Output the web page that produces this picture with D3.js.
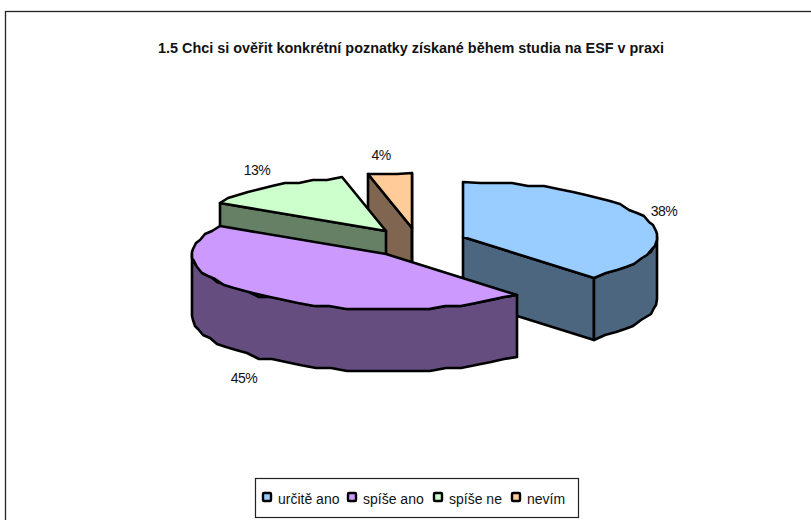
<!DOCTYPE html>
<html><head><meta charset="utf-8">
<script src="https://cdnjs.cloudflare.com/ajax/libs/d3/7.8.5/d3.min.js"></script>
<style>html,body{margin:0;padding:0;background:#fff}svg{display:block}text{font-family:"Liberation Sans",Arial,sans-serif;fill:#111}</style>
</head><body><svg id="c" width="811" height="520"></svg>
<script>
const titleText = "1.5 Chci si ověřit konkrétní poznatky získané během studia na ESF v praxi";
const categories = ["určitě ano","spíše ano","spíše ne","nevím"];
const values = [38.2,45.4,12.8,3.6];
const topColors = ["#99CCFF","#CC99FF","#CCFFCC","#FFCC99"];
const sideColors = ["#4D6680","#664D80","#668066","#806650"];

const RX=194, RY=55, DEPTH=62, STEP=Math.PI/36, GRID=3;
const centers=[[463,237],[386,254],[386,231],[412,228]];
const labelPos=[[664,216],[244,383],[257,175],[381,160]];
const legendMark=[262,347,433,511], legendText=[278,363,449,527];
const drawOrder=[0,3,2,1];

const svg=d3.select("#c");
svg.append("rect").attr("x",5.5).attr("y",11.5).attr("width",830).attr("height",540)
  .attr("fill","#fff").attr("stroke","#222").attr("stroke-width",1.3);
svg.append("text").attr("x",158).attr("y",53)
  .attr("font-size",14).attr("font-weight","bold")
  .attr("textLength",506).attr("lengthAdjust","spacingAndGlyphs").text(titleText);

const pie=d3.pie().sort(null)(values);
const sx=d3.scaleLinear().domain([-1,1]).range([-RX,RX]);
const sy=d3.scaleLinear().domain([-1,1]).range([RY,-RY]);
const pt=(c,a,d=0)=>[Math.round(c[0]+sx(Math.sin(a))),Math.round(c[1]+sy(Math.cos(a))+d)];
const gridPt=(c,a,d=0)=>[Math.round(c[0]+sx(Math.sin(a))),Math.round((c[1]+sy(Math.cos(a)))/GRID)*GRID+d];
function arcPts(c,a0,a1,d=0){
  const n=Math.max(1,Math.ceil((a1-a0)/STEP)),out=[];
  for(let i=0;i<=n;i++) out.push(i===0||i===n?pt(c,a0+(a1-a0)*i/n,d):gridPt(c,a0+(a1-a0)*i/n,d));
  return out;
}
const line=d3.line();
const poly=(p,fill)=>svg.append("path").attr("d",line(p)+"Z").attr("fill",fill)
  .attr("stroke","#000").attr("stroke-width",2.6).attr("stroke-linejoin","round");

drawOrder.forEach(i=>{
  const s=pie[i],c=centers[i],a0=s.startAngle,a1=s.endAngle,side=sideColors[i];
  const cut=a=>{const t=pt(c,a);return [c,t,[t[0],t[1]+DEPTH],[c[0],c[1]+DEPTH]];};
  if(Math.sin(a0)<-1e-6) poly(cut(a0),side);
  if(Math.sin(a1)>-1e-6 && a1>a0) poly(cut(a1),side);
  const w0=Math.max(a0,Math.PI/2),w1=Math.min(a1,3*Math.PI/2);
  if(w1>w0) poly(arcPts(c,w0,w1).concat(arcPts(c,w0,w1,DEPTH).reverse()),side);
  poly([c].concat(arcPts(c,a0,a1)),topColors[i]);
});

values.forEach((v,i)=>svg.append("text").attr("x",labelPos[i][0]).attr("y",labelPos[i][1])
  .attr("text-anchor","middle").attr("font-size",14).attr("letter-spacing",-0.5).text(Math.round(v)+"%"));

svg.append("rect").attr("x",255.5).attr("y",478.5).attr("width",323).attr("height",39)
  .attr("fill","#fff").attr("stroke","#222").attr("stroke-width",1.2);
categories.forEach((t,i)=>{
  svg.append("rect").attr("x",legendMark[i]+1).attr("y",493).attr("width",8).attr("height",8).attr("rx",1)
    .attr("fill",topColors[i]).attr("stroke","#000").attr("stroke-width",2.4);
  svg.append("text").attr("x",legendText[i]).attr("y",504).attr("font-size",14).text(t);
});
</script></body></html>
